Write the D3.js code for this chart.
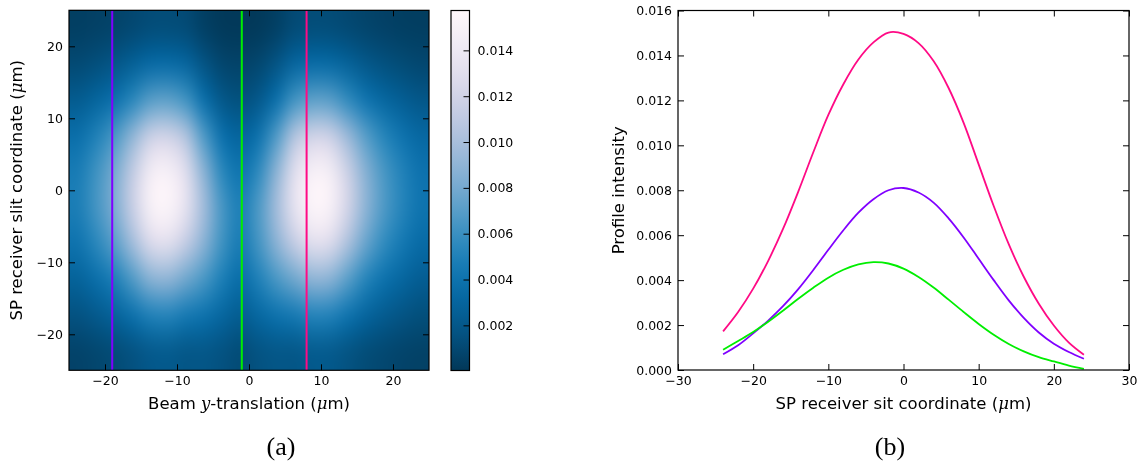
<!DOCTYPE html>
<html><head><meta charset="utf-8">
<script src="https://cdn.jsdelivr.net/npm/d3@7"></script>
<style>
body{margin:0;background:#fff;position:relative;width:1141px;height:466px;overflow:hidden}
#heat{position:absolute}
#c{position:absolute;left:0;top:0}
text{font-family:"DejaVu Sans",sans-serif;fill:#000}
</style>
</head><body>
<canvas id="heat"></canvas>
<svg id="c" width="1141" height="466"></svg>
<script>
// ---------- data ----------
// heat-map cell centres (µm) and intensities (units of 1e-4), rows top (y=22.5) to bottom (y=-22.5)
const heatX = [-23.75,-21.25,-18.75,-16.25,-13.75,-11.25,-8.75,-6.25,-3.75,-1.25,1.25,3.75,6.25,8.75,11.25,13.75,16.25,18.75,21.25,23.75];
const heatY = [22.5,17.5,12.5,7.5,2.5,-2.5,-7.5,-12.5,-17.5,-22.5];
const heatE4 = [
 [4.2,5.4,7.1,9.9,12.8,13.3,11.5,5.2,1.3,1.0,1.3,5.2,11.5,13.3,12.9,10.4,7.7,5.8,4.5,3.6],
 [10.9,14.2,18.6,25.8,33.3,34.6,30.0,17.4,8.6,6.5,8.8,17.4,30.0,34.6,33.7,27.1,20.0,15.1,11.8,9.3],
 [22.5,29.4,38.6,53.4,69.0,71.8,62.1,37.5,19.9,15.0,20.2,37.5,62.1,71.8,69.9,56.1,41.4,31.3,24.4,19.3],
 [37.7,49.3,64.7,89.3,115.5,120.1,104.0,66.8,38.6,29.1,39.2,66.8,104.0,120.1,117.0,93.9,69.3,52.4,40.8,32.3],
 [46.8,61.1,80.2,110.8,143.3,149.0,128.9,87.9,54.5,41.1,55.3,87.9,128.9,149.0,145.2,116.5,86.0,64.9,50.6,40.1],
 [48.2,62.9,82.6,114.0,147.5,153.3,132.7,96.9,64.6,48.7,65.6,96.9,132.7,153.3,149.4,119.9,88.5,66.8,52.1,41.3],
 [40.7,53.1,69.7,96.3,124.5,129.5,112.1,86.8,61.2,46.2,62.2,86.8,112.1,129.5,126.2,101.3,74.7,56.4,44.0,34.9],
 [27.9,36.5,47.9,66.1,85.5,88.9,77.0,64.1,47.9,36.1,48.6,64.1,77.0,88.9,86.6,69.5,51.3,38.8,30.2,23.9],
 [15.9,20.8,27.3,37.7,48.8,50.7,43.9,39.1,30.7,23.2,31.2,39.1,43.9,50.7,49.4,39.7,29.3,22.1,17.2,13.7],
 [6.9,9.0,11.8,16.2,21.0,21.8,18.9,19.0,16.1,12.2,16.4,19.0,18.9,21.8,21.3,17.1,12.6,9.5,7.4,5.9]
];
const colorbarDomain = [0.00003, 0.01574];
const colorbarTicks = [0.002,0.004,0.006,0.008,0.010,0.012,0.014];
const heatTicks = [-20,-10,0,10,20];

// slice positions on the map and their colours
const sliceX = [-19, -1, 8];
const sliceColors = ["#8000ff", "#00ee00", "#ff0a85"];

// profiles (panel b)
const profileX = [-24,-22,-20,-18,-16,-14,-12,-10,-8,-6,-4,-2,0,2,4,6,8,10,12,14,16,18,20,22,24];
const profilePurple = [0.00070,0.00110,0.00163,0.00220,0.00285,0.00360,0.00445,0.00535,0.00622,0.00700,0.00760,0.00800,0.00810,0.00790,0.00745,0.00675,0.00590,0.00495,0.00400,0.00310,0.00232,0.00167,0.00117,0.00080,0.00050];
const profileGreen  = [0.00090,0.00129,0.00169,0.00215,0.00265,0.00317,0.00366,0.00411,0.00446,0.00470,0.00480,0.00474,0.00451,0.00414,0.00367,0.00313,0.00258,0.00205,0.00157,0.00116,0.00083,0.00057,0.00038,0.00020,0.00005];
const profilePink   = [0.00172,0.00258,0.00362,0.00486,0.00630,0.00794,0.00969,0.01135,0.01272,0.01382,0.01458,0.01502,0.01496,0.01455,0.01375,0.01255,0.01100,0.00915,0.00730,0.00560,0.00415,0.00295,0.00198,0.00122,0.00068];
const profileSeries = [profilePurple, profileGreen, profilePink];
const profXTicks = [-30,-20,-10,0,10,20,30];
const profYTicks = [0,0.002,0.004,0.006,0.008,0.010,0.012,0.014,0.016];

// ---------- drawing ----------
const svg = d3.select("#c");
const TICK = 6, FS = "12.5px", LFS = "16.5px";

const xH = d3.scaleLinear([-25,25],[69,429]);
const yH = d3.scaleLinear([-25,25],[370.3,10.3]);
const color = d3.scaleSequential(t => d3.interpolatePuBu(1 - t)).domain(colorbarDomain);

// heat map: one pixel per cell, smoothed by the browser when scaled (like imshow interpolation)
const small = document.createElement("canvas");
small.width = heatX.length; small.height = heatY.length;
const sctx = small.getContext("2d");
heatE4.forEach((row, j) => row.forEach((v, i) => {
  sctx.fillStyle = color(v * 1e-4);
  sctx.fillRect(i, j, 1, 1);
}));
const hw = (heatX[1]-heatX[0])/2, hh = (heatY[0]-heatY[1])/2;
const hx0 = xH(heatX[0]-hw), hx1 = xH(heatX[heatX.length-1]+hw);
const hy0 = yH(heatY[0]+hh), hy1 = yH(heatY[heatY.length-1]-hh);
const big = document.getElementById("heat");
big.width = Math.round(hx1-hx0); big.height = Math.round(hy1-hy0);
big.style.left = hx0 + "px"; big.style.top = hy0 + "px";
const bctx = big.getContext("2d");
bctx.imageSmoothingEnabled = true;
bctx.imageSmoothingQuality = "high";
bctx.drawImage(small, 0, 0, small.width, small.height, 0, 0, big.width, big.height);

// slice lines
svg.append("g").selectAll("line").data(sliceX).join("line")
  .attr("x1", d => xH(d)).attr("x2", d => xH(d))
  .attr("y1", yH(25)).attr("y2", yH(-25))
  .attr("stroke", (d,i) => sliceColors[i]).attr("stroke-width", 2);

function frame(xs, ys, xt, yt, xfmt, yfmt) {
  const [x0,x1] = xs.range(), [y0,y1] = ys.range();
  const b = svg.append("g").attr("transform",`translate(0,${y0})`)
    .call(d3.axisBottom(xs).tickValues(xt).tickSize(-TICK).tickPadding(6).tickFormat(xfmt));
  const t = svg.append("g").attr("transform",`translate(0,${y1})`)
    .call(d3.axisTop(xs).tickValues(xt).tickSize(-TICK).tickFormat(""));
  const l = svg.append("g").attr("transform",`translate(${x0},0)`)
    .call(d3.axisLeft(ys).tickValues(yt).tickSize(-TICK).tickPadding(6).tickFormat(yfmt));
  const r = svg.append("g").attr("transform",`translate(${x1},0)`)
    .call(d3.axisRight(ys).tickValues(yt).tickSize(-TICK).tickFormat(""));
  [b,t,l,r].forEach(g => {
    g.select(".domain").remove();
    g.selectAll("line").attr("stroke","#000").attr("stroke-width",1);
    g.selectAll("text").style("font-size",FS).attr("fill","#000");
  });
  svg.append("rect").attr("x",x0).attr("y",y1).attr("width",x1-x0).attr("height",y0-y1)
    .attr("fill","none").attr("stroke","#000").attr("stroke-width",1.2);
}
const intFmt = d3.format("d");
frame(xH, yH, heatTicks, heatTicks, intFmt, intFmt);

// colorbar
const yC = d3.scaleLinear(colorbarDomain, [370.5, 10.5]);
const cbX = 451, cbW = 18.5;
const grad = svg.append("defs").append("linearGradient").attr("id","cbg")
  .attr("x1",0).attr("y1",1).attr("x2",0).attr("y2",0);
d3.range(0, 1.0001, 0.05).forEach(t => {
  grad.append("stop").attr("offset", t)
    .attr("stop-color", color(colorbarDomain[0] + t*(colorbarDomain[1]-colorbarDomain[0])));
});
svg.append("rect").attr("x",cbX).attr("y",yC.range()[1]).attr("width",cbW)
  .attr("height",yC.range()[0]-yC.range()[1]).attr("fill","url(#cbg)");
const cbAx = svg.append("g").attr("transform",`translate(${cbX+cbW},0)`)
  .call(d3.axisRight(yC).tickValues(colorbarTicks).tickSize(-TICK).tickPadding(8).tickFormat(d3.format(".3f")));
cbAx.select(".domain").remove();
cbAx.selectAll("line").attr("stroke","#000");
cbAx.selectAll("text").style("font-size",FS).attr("fill","#000");
svg.append("rect").attr("x",cbX).attr("y",yC.range()[1]).attr("width",cbW)
  .attr("height",yC.range()[0]-yC.range()[1]).attr("fill","none").attr("stroke","#000").attr("stroke-width",1.2);

// heat map labels
svg.append("text").attr("x", (xH.range()[0]+xH.range()[1])/2).attr("y", 409)
  .attr("text-anchor","middle").style("font-size",LFS)
  .call(t => {
    t.append("tspan").text("Beam ");
    t.append("tspan").text("y").style("font-family","'DejaVu Serif',serif").style("font-style","italic");
    t.append("tspan").text("-translation (");
    t.append("tspan").text("μ").style("font-family","'DejaVu Serif',serif").style("font-style","italic");
    t.append("tspan").text("m)");
  });
svg.append("text").attr("transform",`translate(22,${(yH.range()[0]+yH.range()[1])/2}) rotate(-90)`)
  .attr("text-anchor","middle").style("font-size",LFS)
  .call(t => {
    t.append("tspan").text("SP receiver slit coordinate (");
    t.append("tspan").text("μ").style("font-family","'DejaVu Serif',serif").style("font-style","italic");
    t.append("tspan").text("m)");
  });

// profile panel
const xP = d3.scaleLinear([-30,30],[678,1129]);
const yP = d3.scaleLinear([0,0.016],[370,10.5]);
const line = d3.line().x((d,i) => xP(profileX[i])).y(d => yP(d)).curve(d3.curveCatmullRom);
svg.append("g").selectAll("path").data(profileSeries).join("path")
  .attr("d", d => line(d)).attr("fill","none")
  .attr("stroke", (d,i) => sliceColors[i]).attr("stroke-width", 1.8);
frame(xP, yP, profXTicks, profYTicks, intFmt, d3.format(".3f"));

svg.append("text").attr("x", (xP.range()[0]+xP.range()[1])/2).attr("y", 409)
  .attr("text-anchor","middle").style("font-size",LFS)
  .call(t => {
    t.append("tspan").text("SP receiver sit coordinate (");
    t.append("tspan").text("μ").style("font-family","'DejaVu Serif',serif").style("font-style","italic");
    t.append("tspan").text("m)");
  });
svg.append("text").attr("transform",`translate(624,${(yP.range()[0]+yP.range()[1])/2}) rotate(-90)`)
  .attr("text-anchor","middle").style("font-size",LFS).text("Profile intensity");

// captions
[["(a)", 281], ["(b)", 890]].forEach(([s, x]) => {
  svg.append("text").attr("x", x).attr("y", 455).attr("text-anchor","middle")
    .style("font-family","'Liberation Serif',serif").style("font-size","26px").text(s);
});
</script>
</body></html>
